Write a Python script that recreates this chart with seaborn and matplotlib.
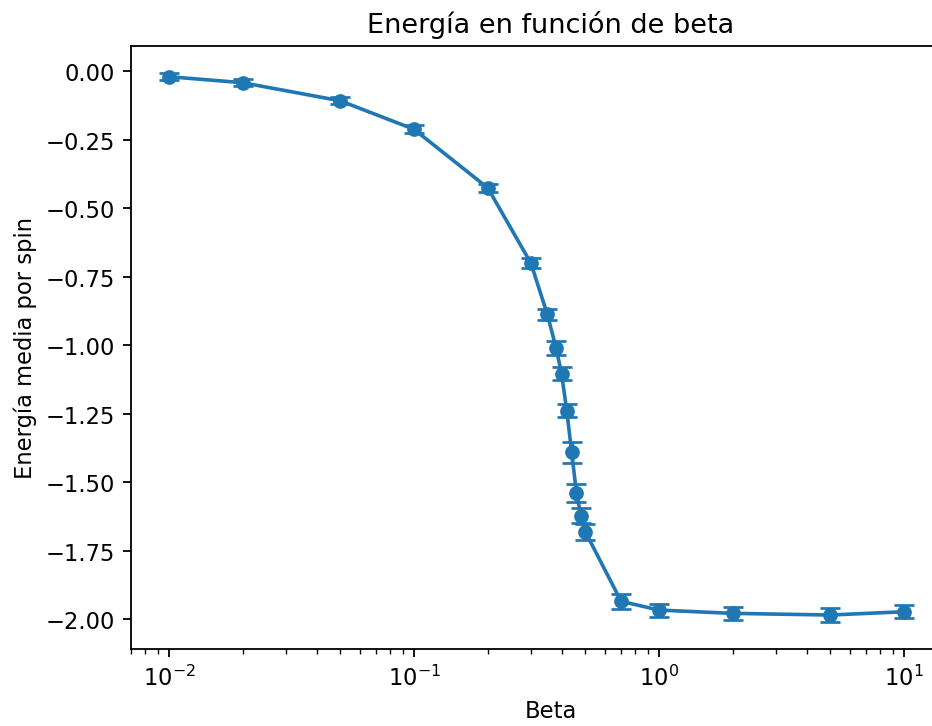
import matplotlib
matplotlib.use("Agg")
import matplotlib.pyplot as plt
import seaborn as sns
import numpy as np
import pandas as pd

beta = [0.01, 0.02, 0.05, 0.1, 0.2, 0.3, 0.35, 0.38, 0.40, 0.42, 0.44, 0.46, 0.48, 0.50,
        0.7, 1.0, 2.0, 5.0, 10.0]
energia = [-0.019, -0.041, -0.107, -0.211, -0.425, -0.700, -0.887, -1.009, -1.103, -1.238,
           -1.390, -1.538, -1.621, -1.680, -1.934, -1.966, -1.978, -1.984, -1.972]
error = [0.012, 0.012, 0.013, 0.014, 0.016, 0.018, 0.021, 0.027, 0.024, 0.024,
         0.039, 0.032, 0.027, 0.029, 0.027, 0.024, 0.025, 0.024, 0.024]

df = pd.DataFrame({"Beta": beta, "E": energia, "err": error})

DPI = 163
fig = plt.figure(figsize=(932 / DPI, 727 / DPI), dpi=DPI)
ax = fig.add_axes([131 / 932, 1 - 650 / 727, 840 / 932, 603 / 727])

color = "#1f77b4"
sns.lineplot(data=df, x="Beta", y="E", ax=ax, color=color, marker="o",
             markersize=6.5, markeredgewidth=0, linewidth=1.6, errorbar=None)
ax.errorbar(df["Beta"], df["E"], yerr=df["err"], fmt="none", ecolor=color,
            elinewidth=1.5, capsize=4.5, capthick=1.2)

ax.set_xscale("log")
ax.set_xlim(10 ** -2.155, 10 ** 1.273)
ax.set_title("Energía en función de beta", fontsize=12, pad=6)
ax.set_xlabel("Beta", fontsize=10)
ax.set_ylabel("Energía media por spin", fontsize=10)
ax.set_yticks([0.0, -0.25, -0.5, -0.75, -1.0, -1.25, -1.5, -1.75, -2.0])

fig.savefig("out.png", dpi=DPI)
